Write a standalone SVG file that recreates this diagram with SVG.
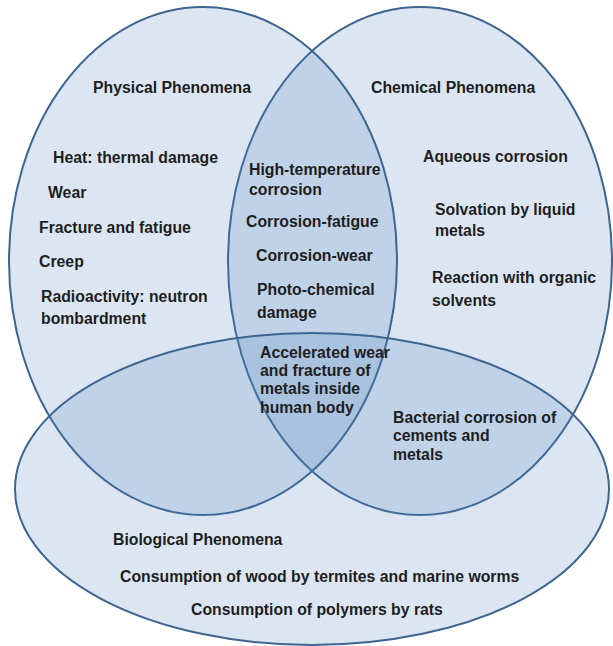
<svg xmlns="http://www.w3.org/2000/svg" width="613" height="646" viewBox="0 0 613 646">
<style>
.set{fill:#4f81bd;fill-opacity:0.2;stroke:#3d6590;stroke-width:2}
text{font-family:"Liberation Sans",Arial,sans-serif;font-weight:bold;font-size:15.8px;fill:#1e1e1e}
</style>
<rect width="613" height="646" fill="#ffffff"/>
<g id="chemical">
<ellipse class="set" cx="420" cy="261" rx="192" ry="254"/>
<text x="371" y="93">Chemical Phenomena</text>
<text x="423" y="162">Aqueous corrosion</text>
<text x="435" y="215">Solvation by liquid</text>
<text x="435" y="236">metals</text>
<text x="432" y="283">Reaction with organic</text>
<text x="432" y="306">solvents</text>
</g>
<g id="physical">
<ellipse class="set" cx="203" cy="261" rx="194" ry="254"/>
<text x="93" y="93">Physical Phenomena</text>
<text x="53" y="163">Heat: thermal damage</text>
<text x="48" y="198">Wear</text>
<text x="39" y="233">Fracture and fatigue</text>
<text x="39" y="267">Creep</text>
<text x="41" y="302">Radioactivity: neutron</text>
<text x="41" y="324">bombardment</text>
</g>
<g id="biological">
<ellipse class="set" cx="312" cy="489" rx="297" ry="156"/>
<text x="113" y="545">Biological Phenomena</text>
<text x="120" y="582">Consumption of wood by termites and marine worms</text>
<text x="191" y="615">Consumption of polymers by rats</text>
</g>
<g id="physical-chemical">
<text x="249" y="175">High-temperature</text>
<text x="249" y="195">corrosion</text>
<text x="246" y="227">Corrosion-fatigue</text>
<text x="256" y="261">Corrosion-wear</text>
<text x="257" y="295">Photo-chemical</text>
<text x="257" y="318">damage</text>
</g>
<g id="all-three">
<text x="260" y="358">Accelerated wear</text>
<text x="260" y="376">and fracture of</text>
<text x="260" y="394">metals inside</text>
<text x="260" y="413">human body</text>
</g>
<g id="chemical-biological">
<text x="393" y="423">Bacterial corrosion of</text>
<text x="393" y="441">cements and</text>
<text x="393" y="460">metals</text>
</g>
<g id="connectors"/>
</svg>
